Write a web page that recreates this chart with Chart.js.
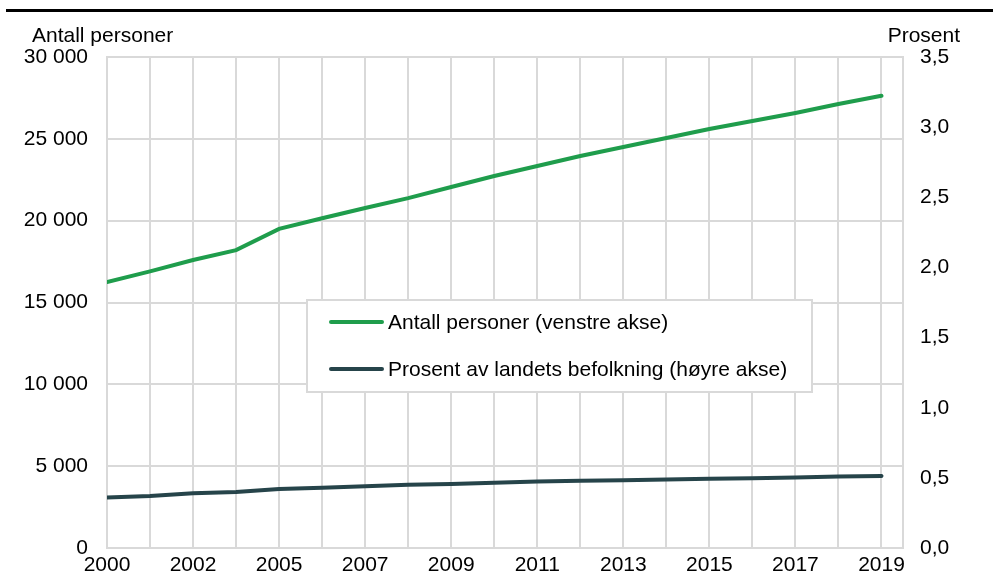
<!DOCTYPE html>
<html lang="no">
<head>
<meta charset="UTF-8">
<title>Antall personer og prosent av landets befolkning</title>
<script src="https://cdn.jsdelivr.net/npm/chart.js"></script>
<style>
  html, body { margin: 0; padding: 0; background: #fff; }
  #wrap { width: 995px; height: 585px; }
</style>
</head>
<body>
<div id="wrap"><canvas id="chart" width="995" height="585"></canvas></div>
<script>
// Years in the series (2003 is not in the source data)
const years = ['2000', '2001', '2002', '2004', '2005', '2006', '2007', '2008', '2009', '2010',
               '2011', '2012', '2013', '2014', '2015', '2016', '2017', '2018', '2019'];
// Antall personer (venstre akse)
const persons = [16250, 16900, 17600, 18200, 19500, 20150, 20770, 21380, 22060, 22730,
                 23340, 23950, 24500, 25050, 25600, 26090, 26580, 27130, 27630];
// Prosent av landets befolkning (høyre akse)
const percent = [0.36, 0.37, 0.39, 0.40, 0.42, 0.43, 0.44, 0.45, 0.457, 0.466,
                 0.474, 0.479, 0.483, 0.488, 0.493, 0.498, 0.502, 0.51, 0.514];

const seriesNames = ['Antall personer (venstre akse)', 'Prosent av landets befolkning (høyre akse)'];
const green = '#1f9d4c';
const dark = '#26444a';
const gridColor = '#d9d9d9';
const FONT = '"Liberation Sans", Arial, sans-serif';

function toPoints(values) {
  return values.map((v, i) => ({ x: i, y: v }));
}

// extra drawing: top rule, axis titles, legend box inside the plot
const extras = {
  id: 'extras',
  afterDraw(chart) {
    const ctx = chart.ctx;
    ctx.save();
    ctx.fillStyle = '#000';
    ctx.fillRect(6, 9, 987, 3);

    ctx.font = '21px ' + FONT;
    ctx.textBaseline = 'alphabetic';
    ctx.textAlign = 'left';
    ctx.fillText('Antall personer', 32, 42);
    ctx.textAlign = 'right';
    ctx.fillText('Prosent', 960, 42);

    // legend
    ctx.fillStyle = '#fff';
    ctx.fillRect(307, 300, 505, 92);
    ctx.strokeStyle = gridColor;
    ctx.lineWidth = 2;
    ctx.strokeRect(307, 300, 505, 92);
    const rows = [322, 369];
    chart.data.datasets.forEach((ds, i) => {
      ctx.strokeStyle = ds.borderColor;
      ctx.lineWidth = 4;
      ctx.lineCap = 'round';
      ctx.beginPath();
      ctx.moveTo(331, rows[i]);
      ctx.lineTo(382, rows[i]);
      ctx.stroke();
      ctx.fillStyle = '#000';
      ctx.textAlign = 'left';
      ctx.textBaseline = 'middle';
      ctx.fillText(ds.label, 388, rows[i] + 1);
    });
    ctx.restore();
  }
};

new Chart(document.getElementById('chart'), {
  type: 'line',
  data: {
    datasets: [
      {
        label: seriesNames[0],
        data: toPoints(persons),
        yAxisID: 'y',
        borderColor: green,
        borderWidth: 4,
        borderCapStyle: 'round',
        pointRadius: 0,
        tension: 0
      },
      {
        label: seriesNames[1],
        data: toPoints(percent),
        yAxisID: 'y1',
        borderColor: dark,
        borderWidth: 4,
        borderCapStyle: 'round',
        pointRadius: 0,
        tension: 0
      }
    ]
  },
  options: {
    responsive: false,
    animation: false,
    layout: { padding: { top: 57, left: 0, right: 0, bottom: 0 } },
    plugins: { legend: { display: false }, tooltip: { enabled: false } },
    scales: {
      x: {
        type: 'linear',
        min: 0,
        max: 18.5,
        grid: { color: gridColor, lineWidth: 2, drawTicks: false },
        border: { color: gridColor, width: 2 },
        ticks: {
          stepSize: 1,
          includeBounds: false,
          autoSkip: false,
          maxRotation: 0,
          padding: 5,
          color: '#000',
          font: { family: FONT, size: 21 },
          callback: (v) => (v % 2 === 0 && years[v] ? years[v] : '')
        },
        afterFit: (s) => { s.height = 37; }
      },
      y: {
        position: 'left',
        min: 0,
        max: 30000,
        grid: { color: gridColor, lineWidth: 2, drawTicks: false },
        border: { color: gridColor, width: 2 },
        ticks: {
          stepSize: 5000,
          padding: 19,
          color: '#000',
          font: { family: FONT, size: 21 },
          callback: (v) => String(v).replace(/\B(?=(\d{3})+(?!\d))/g, ' ')
        },
        afterFit: (s) => { s.width = 107; }
      },
      y1: {
        position: 'right',
        min: 0,
        max: 3.5,
        grid: { display: false, drawTicks: false },
        border: { color: gridColor, width: 2 },
        ticks: {
          stepSize: 0.5,
          padding: 17,
          color: '#000',
          font: { family: FONT, size: 21 },
          callback: (v) => v.toFixed(1).replace('.', ',')
        },
        afterFit: (s) => { s.width = 92; }
      }
    }
  },
  plugins: [extras]
});
</script>
</body>
</html>
